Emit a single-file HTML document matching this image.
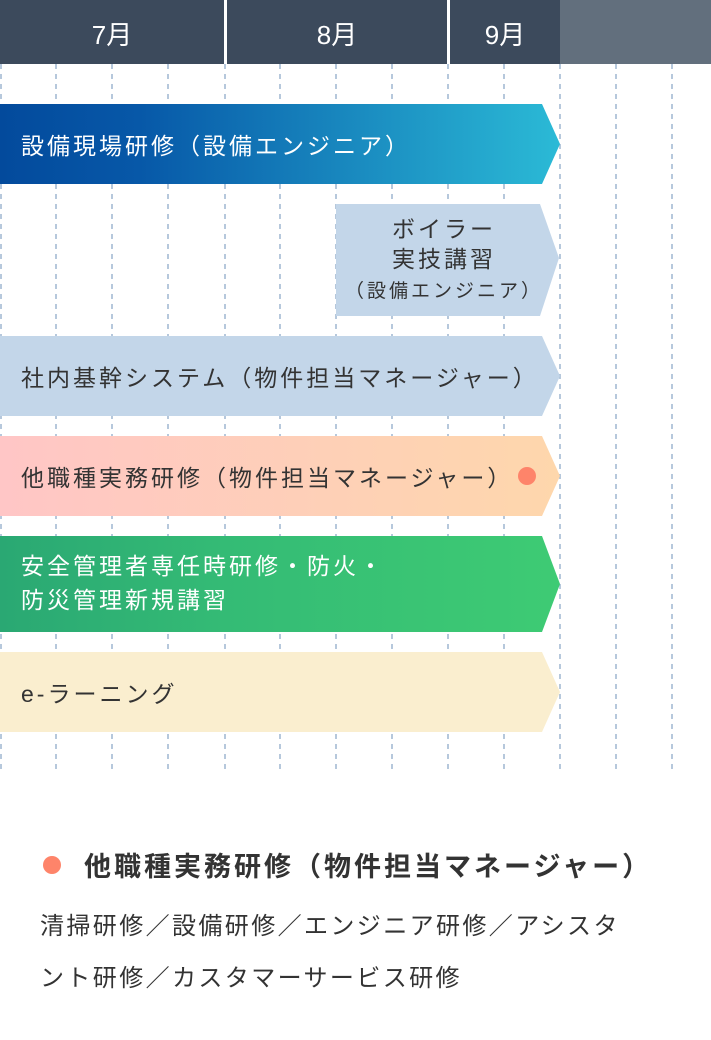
<!DOCTYPE html>
<html><head><meta charset="utf-8"><style>
html,body{margin:0;padding:0;background:#fff;}
body{width:711px;height:1040px;position:relative;overflow:hidden;font-family:"Liberation Sans","Noto Sans CJK JP",sans-serif;}
.t{position:absolute;white-space:nowrap;}
.b{font-size:23px;letter-spacing:3px;}
</style></head><body>
<svg width="711" height="1040" style="position:absolute;left:0;top:0">
<defs>
<linearGradient id="g1" x1="0" x2="1" y1="0" y2="0"><stop offset="0" stop-color="#034a9c"/><stop offset="0.25" stop-color="#0758a8"/><stop offset="1" stop-color="#2bbad6"/></linearGradient>
<linearGradient id="g4" x1="0" x2="1"><stop offset="0" stop-color="#ffc6c6"/><stop offset="1" stop-color="#fed7ac"/></linearGradient>
<linearGradient id="g5" x1="0" x2="1"><stop offset="0" stop-color="#2aa873"/><stop offset="0.4" stop-color="#34bb75"/><stop offset="1" stop-color="#3ecb74"/></linearGradient>
</defs>
<rect x="0" y="0" width="224" height="64" fill="#3c4a5c"/>
<rect x="227" y="0" width="220" height="64" fill="#3c4a5c"/>
<rect x="450" y="0" width="110" height="64" fill="#3c4a5c"/>
<rect x="560" y="0" width="151" height="64" fill="#626f7d"/>
<g stroke="#9db6d1" stroke-width="1.5" stroke-dasharray="5,5">
<line x1="1" y1="64" x2="1" y2="772"/><line x1="56" y1="64" x2="56" y2="772"/><line x1="112" y1="64" x2="112" y2="772"/><line x1="168" y1="64" x2="168" y2="772"/><line x1="225" y1="64" x2="225" y2="772"/><line x1="280" y1="64" x2="280" y2="772"/><line x1="336" y1="64" x2="336" y2="772"/><line x1="392" y1="64" x2="392" y2="772"/><line x1="448" y1="64" x2="448" y2="772"/><line x1="504" y1="64" x2="504" y2="772"/><line x1="560" y1="64" x2="560" y2="772"/><line x1="616" y1="64" x2="616" y2="772"/><line x1="672" y1="64" x2="672" y2="772"/>
</g>
<polygon points="0,104 542,104 560,144 542,184 0,184" fill="url(#g1)"/>
<polygon points="336,204 540,204 559,258 540,316 336,316" fill="#c3d6e9"/>
<polygon points="0,336 542,336 560,376 542,416 0,416" fill="#c3d6e9"/>
<polygon points="0,436 542,436 560,476 542,516 0,516" fill="url(#g4)"/>
<circle cx="527" cy="476" r="9" fill="#fe846a"/>
<polygon points="0,536 542,536 560,584 542,632 0,632" fill="url(#g5)"/>
<polygon points="0,652 542,652 560,692 542,732 0,732" fill="#faeecf"/>
<circle cx="52" cy="865" r="9" fill="#fe846a"/>
</svg>
<div class="t" style="left:0;width:224px;text-align:center;top:15px;color:#fff;font-size:26px;">7月</div>
<div class="t" style="left:227px;width:220px;text-align:center;top:15px;color:#fff;font-size:26px;">8月</div>
<div class="t" style="left:450px;width:110px;text-align:center;top:15px;color:#fff;font-size:26px;">9月</div>
<div class="t b" style="left:21px;top:127px;color:#fff;">設備現場研修（設備エンジニア）</div>
<div class="t b" style="left:336px;width:210px;text-align:center;padding-left:3px;top:214px;color:#333;line-height:30px;">ボイラー<br>実技講習<br><span style="font-size:19px;line-height:22px;letter-spacing:3px;">（設備エンジニア）</span></div>
<div class="t b" style="left:21px;top:359px;color:#333;">社内基幹システム（物件担当マネージャー）</div>
<div class="t b" style="left:21px;top:459px;color:#333;">他職種実務研修（物件担当マネージャー）</div>
<div class="t b" style="left:21px;top:549px;color:#fff;line-height:34px;">安全管理者専任時研修・防火・<br>防災管理新規講習</div>
<div class="t b" style="left:21px;top:675px;color:#333;">e-ラーニング</div>
<div class="t" style="left:84px;top:845px;color:#333;font-size:27px;letter-spacing:3px;font-weight:bold;">他職種実務研修（物件担当マネージャー）</div>
<div class="t" style="left:40px;top:901px;color:#333;font-size:24px;letter-spacing:2.4px;line-height:52px;">清掃研修／設備研修／エンジニア研修／アシスタ<br>ント研修／カスタマーサービス研修</div>
</body></html>
